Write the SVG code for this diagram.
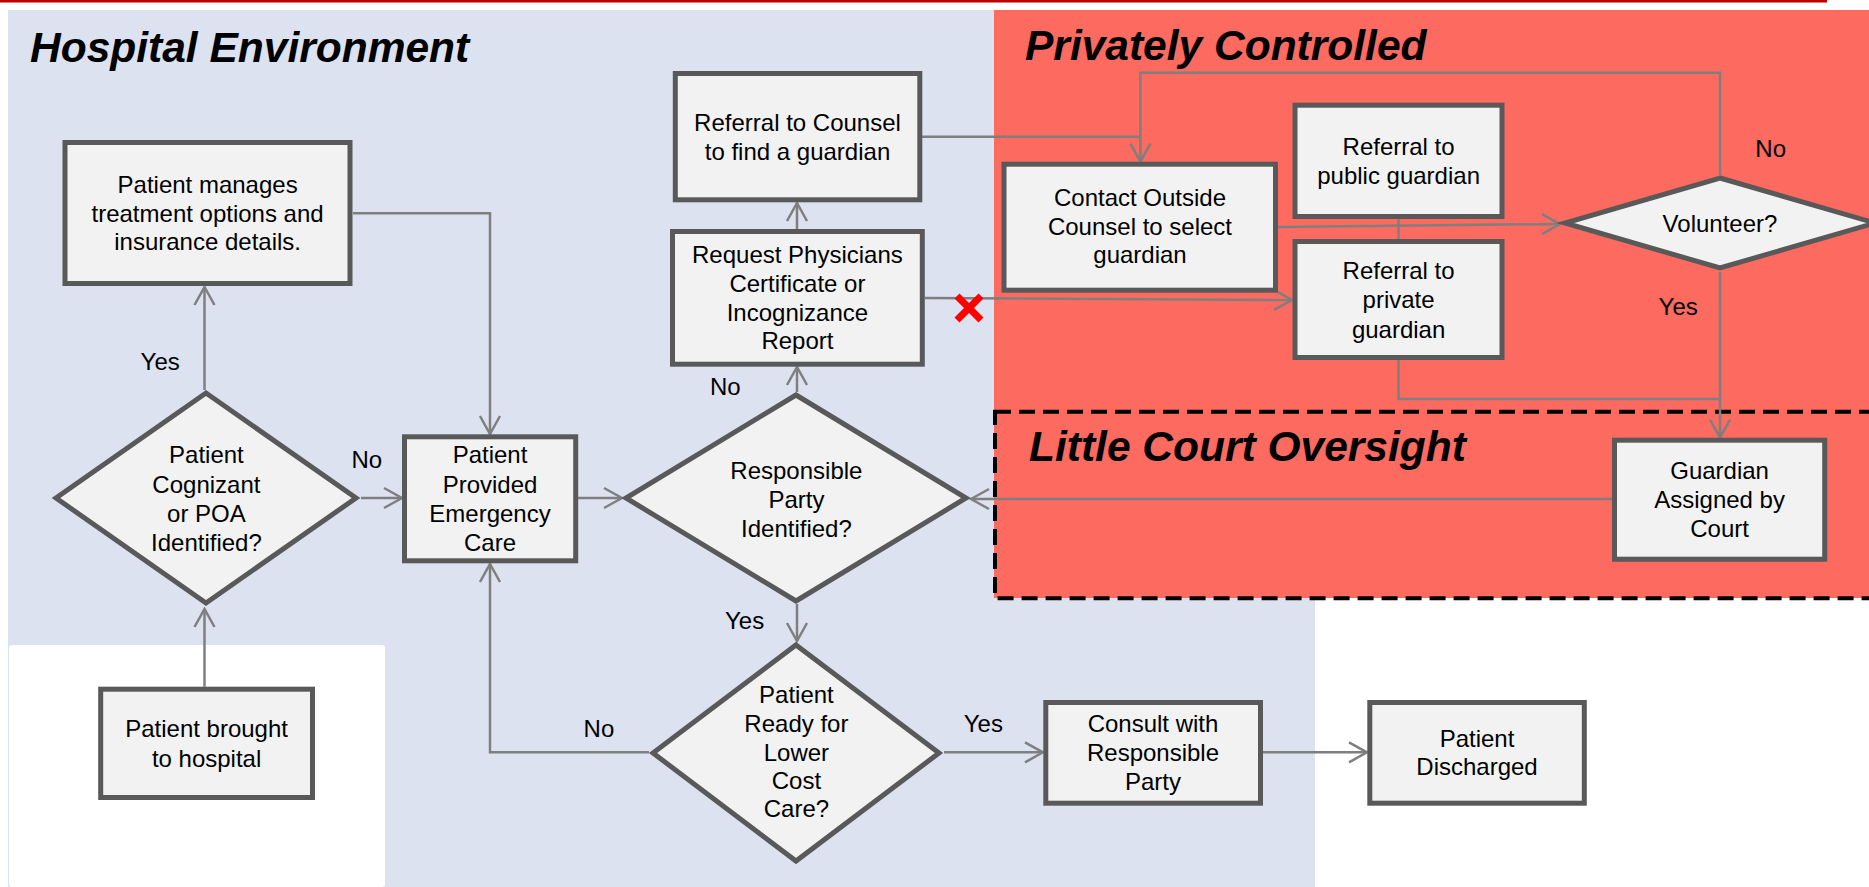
<svg xmlns="http://www.w3.org/2000/svg" width="1869" height="887" viewBox="0 0 1869 887">
<defs>
<style>
.box{fill:#f2f2f2;stroke:#595959;stroke-width:5}
.t{font-family:"Liberation Sans",Arial,sans-serif;font-size:24px;fill:#000;text-anchor:middle}
.lbl{font-family:"Liberation Sans",Arial,sans-serif;font-size:24px;fill:#000}
.title{font-family:"Liberation Sans",Arial,sans-serif;font-size:42.5px;font-weight:bold;font-style:italic;fill:#000}
.c{fill:none;stroke:#7f7f7f;stroke-width:2.5}
.a{marker-end:url(#arr)}
</style>
<marker id="arr" markerUnits="userSpaceOnUse" viewBox="-20 -12 22 24" refX="0" refY="0" markerWidth="22" markerHeight="24" orient="auto">
<path d="M-18 -10 L0 0 L-18 10" fill="none" stroke="#7f7f7f" stroke-width="2.5"/>
</marker>
</defs>
<g id="background">
<rect x="0" y="0" width="1869" height="887" fill="#ffffff"/>
<rect x="0" y="0" width="1827" height="2.5" fill="#c00000"/>
<rect x="8" y="10" width="1307" height="877" fill="#dce2f0"/>
<rect x="9" y="645" width="376" height="242" rx="3" fill="#ffffff"/>
<rect x="994" y="10" width="875" height="588" fill="#fc6a60"/>
<rect x="995" y="411.7" width="900" height="186.6" fill="none" stroke="#000" stroke-width="4" stroke-dasharray="16 8"/>
<text class="title" x="30" y="61.7">Hospital Environment</text>
<text class="title" x="1025" y="60">Privately Controlled</text>
<text class="title" x="1029" y="461">Little Court Oversight</text>
</g>
<g id="connectors">
<path class="c a" d="M204.5 686.7 V609"/>
<path class="c a" d="M204.5 390 V287"/>
<path class="c a" d="M353 213.3 H490 V434"/>
<path class="c a" d="M361 498 H402"/>
<path class="c a" d="M578 498 H622"/>
<path class="c a" d="M797 392 V367"/>
<path class="c a" d="M797 229 V203"/>
<path class="c" d="M922 136.7 H1140.4"/>
<path class="c a" d="M1720 175 V72.7 H1140.4 V161.7"/>
<path class="c a" d="M925 298 L1292 300"/>
<path class="c a" d="M1278 227 L1560 224"/>
<path class="c" d="M1398.5 219 V239"/>
<path class="c" d="M1398.5 360 V399 H1720"/>
<path class="c a" d="M1720 272 V437.7"/>
<path class="c a" d="M1612 499 H971"/>
<path class="c a" d="M797 604 V641"/>
<path class="c a" d="M649 752.3 H490 V564"/>
<path class="c a" d="M944 752.3 H1043"/>
<path class="c a" d="M1263 752.3 H1367"/>
<g id="blocked" stroke="#ff0000" stroke-width="7">
<line x1="957" y1="296" x2="981" y2="320"/>
<line x1="981" y1="296" x2="957" y2="320"/>
</g>
<text class="lbl" x="140.6" y="370">Yes</text>
<text class="lbl" x="351.5" y="467.7">No</text>
<text class="lbl" x="583.6" y="737.3">No</text>
<text class="lbl" x="710" y="395">No</text>
<text class="lbl" x="725" y="629.3">Yes</text>
<text class="lbl" x="963.8" y="732.3">Yes</text>
<text class="lbl" x="1755.3" y="156.7">No</text>
<text class="lbl" x="1658.6" y="315">Yes</text>
</g>
<g id="n_manages">
<rect class="box" x="65" y="142.5" width="285" height="141"/>
<text class="t" x="207.6" y="192.7">Patient manages</text>
<text class="t" x="207.6" y="221.7">treatment options and</text>
<text class="t" x="207.6" y="250">insurance details.</text>
</g>
<g id="n_cognizant">
<polygon class="box" points="206,393 356,498 206,603 56,498"/>
<text class="t" x="206.4" y="463.3">Patient</text>
<text class="t" x="206.4" y="492.7">Cognizant</text>
<text class="t" x="206.4" y="521.7">or POA</text>
<text class="t" x="206.4" y="550.7">Identified?</text>
</g>
<g id="n_emergency">
<rect class="box" x="404.5" y="436.8" width="171.2" height="124"/>
<text class="t" x="490" y="463.3">Patient</text>
<text class="t" x="490" y="492.7">Provided</text>
<text class="t" x="490" y="521.7">Emergency</text>
<text class="t" x="490" y="550.7">Care</text>
</g>
<g id="n_brought">
<rect class="box" x="100.7" y="689.2" width="211.8" height="108.3"/>
<text class="t" x="206.6" y="737.3">Patient brought</text>
<text class="t" x="206.6" y="766.7">to hospital</text>
</g>
<g id="n_counsel">
<rect class="box" x="675.3" y="73.5" width="244.5" height="126.3"/>
<text class="t" x="797.5" y="131">Referral to Counsel</text>
<text class="t" x="797.5" y="160">to find a guardian</text>
</g>
<g id="n_request">
<rect class="box" x="672.5" y="231.5" width="249.8" height="132.7"/>
<text class="t" x="797.4" y="263.3">Request Physicians</text>
<text class="t" x="797.4" y="291.7">Certificate or</text>
<text class="t" x="797.4" y="320.7">Incognizance</text>
<text class="t" x="797.4" y="349.3">Report</text>
</g>
<g id="n_contact">
<rect class="box" x="1004" y="164.2" width="271.5" height="126"/>
<text class="t" x="1140" y="205.7">Contact Outside</text>
<text class="t" x="1140" y="235">Counsel to select</text>
<text class="t" x="1140" y="263.3">guardian</text>
</g>
<g id="n_public">
<rect class="box" x="1295" y="105.2" width="207" height="111.3"/>
<text class="t" x="1398.6" y="155">Referral to</text>
<text class="t" x="1398.6" y="184">public guardian</text>
</g>
<g id="n_private">
<rect class="box" x="1295" y="241.5" width="207" height="116"/>
<text class="t" x="1398.6" y="279.3">Referral to</text>
<text class="t" x="1398.6" y="308.3">private</text>
<text class="t" x="1398.6" y="337.7">guardian</text>
</g>
<g id="n_volunteer">
<polygon class="box" points="1720,178 1875,223 1720,268 1565,223"/>
<text class="t" x="1720" y="231.7">Volunteer?</text>
</g>
<g id="n_responsible">
<polygon class="box" points="796,395 966,498 796,601 626,498"/>
<text class="t" x="796.4" y="479.3">Responsible</text>
<text class="t" x="796.4" y="508.3">Party</text>
<text class="t" x="796.4" y="536.7">Identified?</text>
</g>
<g id="n_guardian">
<rect class="box" x="1614.5" y="440.2" width="210.2" height="119"/>
<text class="t" x="1719.6" y="479.3">Guardian</text>
<text class="t" x="1719.6" y="508.3">Assigned by</text>
<text class="t" x="1719.6" y="536.7">Court</text>
</g>
<g id="n_ready">
<polygon class="box" points="796,645 939,753 796,861 653,753"/>
<text class="t" x="796.4" y="703.3">Patient</text>
<text class="t" x="796.4" y="731.7">Ready for</text>
<text class="t" x="796.4" y="760.7">Lower</text>
<text class="t" x="796.4" y="789.3">Cost</text>
<text class="t" x="796.4" y="817.3">Care?</text>
</g>
<g id="n_consult">
<rect class="box" x="1045.8" y="702.5" width="214.7" height="100.7"/>
<text class="t" x="1153" y="732.3">Consult with</text>
<text class="t" x="1153" y="761">Responsible</text>
<text class="t" x="1153" y="790">Party</text>
</g>
<g id="n_discharged">
<rect class="box" x="1369.8" y="702.5" width="214.5" height="100.7"/>
<text class="t" x="1477" y="746.7">Patient</text>
<text class="t" x="1477" y="775">Discharged</text>
</g>
</svg>
